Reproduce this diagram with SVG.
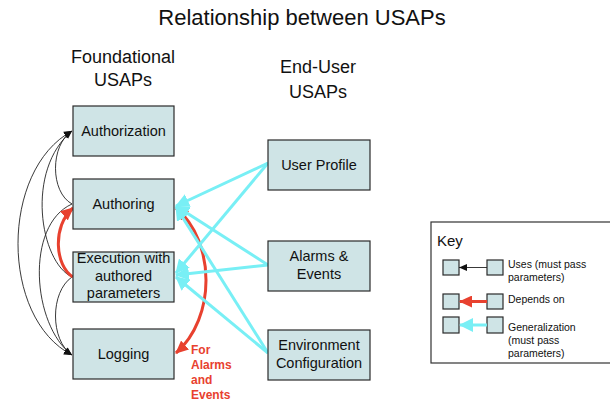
<svg xmlns="http://www.w3.org/2000/svg" width="610" height="402" viewBox="0 0 610 402">
<defs>
<style>
.box{fill:#cfe4e6;stroke:#2a2a2a;stroke-width:1.2}
.t{font-family:"Liberation Sans",Arial,sans-serif;fill:#111}
.nt{font-size:14.5px;text-anchor:middle}
.hd{font-size:18px;text-anchor:middle}
.kt{font-size:10.5px}
.uses{fill:none;stroke:#222;stroke-width:0.9}
.dep{fill:none;stroke:#e8412f;stroke-width:3}
.gen{fill:none;stroke:#78eff5;stroke-width:3}
.red{font-family:"Liberation Sans",Arial,sans-serif;font-size:12px;font-weight:bold;fill:#e8412f}
</style>
<marker id="mb" markerUnits="userSpaceOnUse" markerWidth="9" markerHeight="8" refX="8" refY="4" orient="auto-start-reverse"><path d="M0,0.5 L8,4 L0,7.5 z" fill="#111"/></marker>
<marker id="mr" markerUnits="userSpaceOnUse" markerWidth="14" markerHeight="12" refX="12" refY="6" orient="auto-start-reverse"><path d="M0,0 L13,6 L0,12 z" fill="#e8412f"/></marker>
<marker id="mc" markerUnits="userSpaceOnUse" markerWidth="15" markerHeight="14" refX="13" refY="7" orient="auto-start-reverse"><path d="M0,0 L14,7 L0,14 z" fill="#78eff5"/></marker>
</defs>
<rect width="610" height="402" fill="#ffffff"/>

<text class="t" x="302" y="25" font-size="22" text-anchor="middle">Relationship between USAPs</text>
<text class="t hd" x="123" y="63">Foundational</text>
<text class="t hd" x="123" y="86">USAPs</text>
<text class="t hd" x="318" y="73">End-User</text>
<text class="t hd" x="318" y="98">USAPs</text>

<g id="connectors">
<path class="uses" d="M72,204 C50,192 50,145 72,131" marker-end="url(#mb)"/>
<path class="uses" d="M72,277 C40,262 25,170 72,131" marker-end="url(#mb)"/>
<path class="uses" d="M72,131 C0,170 0,318 72,355" marker-start="url(#mb)" marker-end="url(#mb)"/>
<path class="uses" d="M72,204 C25,225 32,325 72,355" marker-end="url(#mb)"/>
<path class="uses" d="M72,277 C50,292 50,340 72,355" marker-end="url(#mb)"/>

<path class="dep" d="M73,277 C55,266 52,226 73,208" marker-end="url(#mr)"/>
<path class="dep" d="M176,208 C216,242 216,318 176,353" marker-start="url(#mr)" marker-end="url(#mr)"/>

<path class="gen" d="M268,163 L176,206" marker-end="url(#mc)"/>
<path class="gen" d="M268,163 L176,273" marker-end="url(#mc)"/>
<path class="gen" d="M268,265 L176,206" marker-end="url(#mc)"/>
<path class="gen" d="M268,265 L176,275" marker-end="url(#mc)"/>
<path class="gen" d="M268,353 L176,207" marker-end="url(#mc)"/>
<path class="gen" d="M268,353 L176,277" marker-end="url(#mc)"/>
</g>

<g id="authorization"><rect class="box" x="73" y="106" width="101" height="50"/><text class="t nt" x="123.5" y="136">Authorization</text></g>
<g id="authoring"><rect class="box" x="73" y="179" width="101" height="50"/><text class="t nt" x="123.5" y="209">Authoring</text></g>
<g id="execution"><rect class="box" x="73" y="252" width="101" height="50"/><text class="t nt" x="123.5" y="263">Execution with</text><text class="t nt" x="123.5" y="281">authored</text><text class="t nt" x="123.5" y="298">parameters</text></g>
<g id="logging"><rect class="box" x="73" y="329" width="101" height="50"/><text class="t nt" x="123.5" y="359">Logging</text></g>

<g id="user-profile"><rect class="box" x="268" y="140" width="102" height="50"/><text class="t nt" x="319" y="170">User Profile</text></g>
<g id="alarms-events"><rect class="box" x="268" y="241" width="102" height="50"/><text class="t nt" x="319" y="261">Alarms &amp;</text><text class="t nt" x="319" y="279">Events</text></g>
<g id="environment-configuration"><rect class="box" x="268" y="330" width="102" height="50"/><text class="t nt" x="319" y="350">Environment</text><text class="t nt" x="319" y="368">Configuration</text></g>

<text class="red" x="191" y="354">For</text>
<text class="red" x="191" y="369">Alarms</text>
<text class="red" x="191" y="384">and</text>
<text class="red" x="191" y="399">Events</text>

<g id="key">
<rect x="431" y="222" width="185" height="141" fill="#fff" stroke="#333" stroke-width="1.2"/>
<text class="t" x="437" y="246" font-size="15">Key</text>
<rect class="box" x="443" y="260" width="16" height="15"/>
<rect class="box" x="487" y="260" width="16" height="15"/>
<path class="uses" d="M487,267.5 L459,267.5" marker-end="url(#mb)"/>
<rect class="box" x="443" y="294" width="16" height="15"/>
<rect class="box" x="487" y="294" width="16" height="15"/>
<path class="dep" d="M487,301.5 L460,301.5" marker-end="url(#mr)"/>
<rect class="box" x="443" y="317" width="16" height="16"/>
<rect class="box" x="487" y="317" width="16" height="16"/>
<path class="gen" d="M487,325 L460,325" marker-end="url(#mc)"/>
<text class="t kt" x="508" y="268">Uses (must pass</text>
<text class="t kt" x="508" y="281">parameters)</text>
<text class="t kt" x="508" y="303">Depends on</text>
<text class="t kt" x="508" y="331">Generalization</text>
<text class="t kt" x="508" y="344">(must pass</text>
<text class="t kt" x="508" y="357">parameters)</text>
</g>
</svg>
